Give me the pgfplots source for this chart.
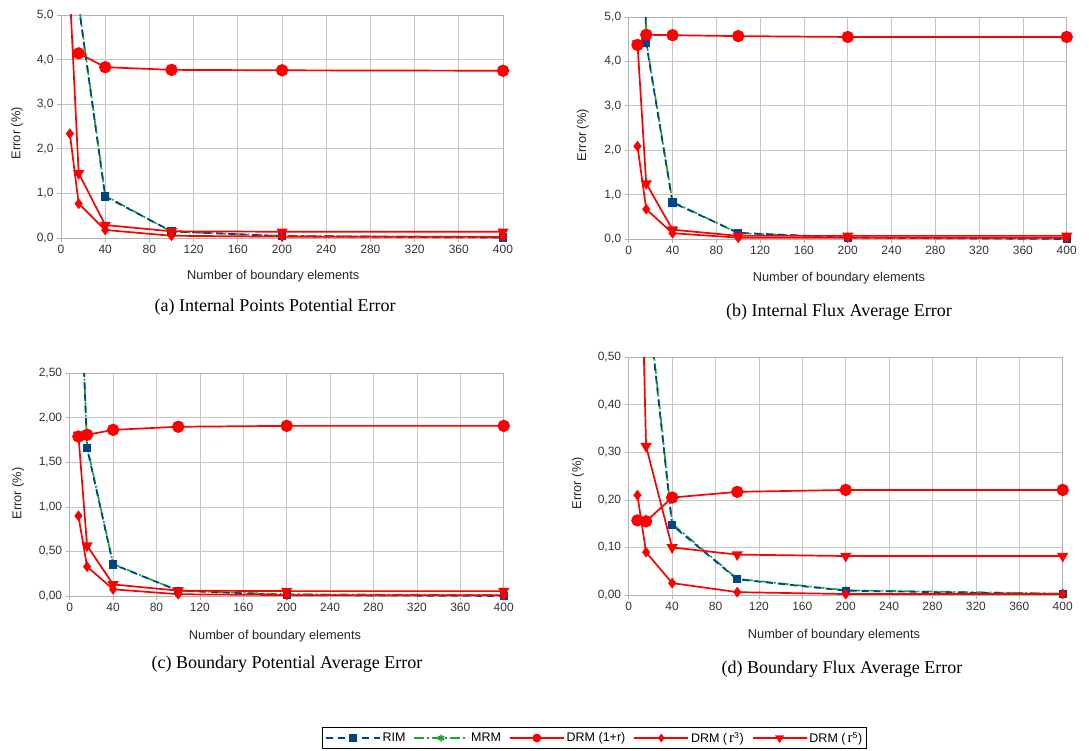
\documentclass[border=0pt]{standalone}
\usepackage{pgfplots}
\pgfplotsset{compat=1.18}
\usepackage{fontspec}
\setmainfont{Liberation Sans}
\newfontfamily\capfont{Liberation Serif}
\definecolor{rimblue}{RGB}{0,69,134}
\definecolor{mrmgreen}{RGB}{20,170,50}
\definecolor{drmred}{RGB}{255,0,0}

\pgfplotsset{
  panel/.style={
    scale only axis, anchor=south west,
    xmin=0, xmax=400, ymin=0,
    xtick={0,40,...,400},
    grid=major, grid style={gray!45, line width=0.8pt},
    axis line style={gray!60, line width=0.8pt},
    tick style={gray!60, line width=0.8pt},
    tick align=outside, major tick length=4pt,
    xtick pos=left, ytick pos=left,
    tick label style={font=\fontsize{12}{13}\selectfont, text=black!80},
    label style={font=\fontsize{12.8}{14}\selectfont, text=black!85},
    /pgf/number format/assume math mode=true,
    xlabel={Number of boundary elements},
    ylabel={Error (\%)},
  },
  rim/.style={color=rimblue, line width=1.7pt, dash pattern=on 7pt off 5pt, mark=square*, mark size=3.3pt, mark options={solid}},
  mrm/.style={color=mrmgreen, line width=1.7pt, dash pattern=on 10pt off 3pt on 2pt off 3pt, mark=asterisk, mark size=4pt, mark options={solid}},
  drma/.style={color=drmred, line width=1.7pt, mark=*, mark size=5.3pt},
  drmb/.style={color=drmred, line width=1.7pt, mark=diamond*, mark size=4pt},
  drmc/.style={color=drmred, line width=1.7pt, mark=triangle*, mark size=4.8pt, mark options={rotate=180}},
}

\begin{document}
\begin{tikzpicture}
\useasboundingbox (0,0) rectangle (1089pt,-751pt);

% (a) Internal Points Potential Error
\begin{axis}[panel, at={(61pt,-238pt)}, width=442pt, height=223pt,
  ymax=5, ytick={0,1,...,5},
  yticklabel style={/pgf/number format/.cd, fixed, fixed zerofill, precision=1, use comma},
  ylabel style={at={(axis description cs:-0.0995,0.47)}, anchor=center},
  xlabel style={at={(axis description cs:0.48,-0.1735)}, anchor=center}]
  \addplot[mrm] coordinates {(8,20) (16,5.25) (40,0.95) (100,0.14) (200,0.05) (400,0.02)};
  \addplot[rim] coordinates {(8,20) (16,5.2) (40,0.93) (100,0.15) (200,0.04) (400,0.01)};
  \addplot[drma] coordinates {(16,4.14) (40,3.83) (100,3.77) (200,3.76) (400,3.75)};
  \addplot[drmb] coordinates {(8,2.34) (16,0.77) (40,0.18) (100,0.05) (200,0.03) (400,0.03)};
  \addplot[drmc] coordinates {(8,5.5) (16,1.45) (40,0.29) (100,0.15) (200,0.14) (400,0.14)};
\end{axis}

% (b) Internal Flux Average Error
\begin{axis}[panel, at={(628.7pt,-239pt)}, width=438pt, height=222pt,
  ymax=5, ytick={0,1,...,5},
  yticklabel style={/pgf/number format/.cd, fixed, fixed zerofill, precision=1, use comma},
  ylabel style={at={(axis description cs:-0.105,0.468)}, anchor=center},
  xlabel style={at={(axis description cs:0.48,-0.177)}, anchor=center}]
  \addplot[mrm] coordinates {(8,15) (16,4.45) (40,0.84) (100,0.13) (200,0.04) (400,0.01)};
  \addplot[rim] coordinates {(8,15) (16,4.41) (40,0.82) (100,0.14) (200,0.03) (400,0.0)};
  \addplot[drma] coordinates {(8,4.37) (16,4.60) (40,4.59) (100,4.57) (200,4.55) (400,4.55)};
  \addplot[drmb] coordinates {(8,2.09) (16,0.67) (40,0.13) (100,0.03) (200,0.03) (400,0.03)};
  \addplot[drmc] coordinates {(8,4.4) (16,1.25) (40,0.21) (100,0.07) (200,0.07) (400,0.07)};
\end{axis}

% (c) Boundary Potential Average Error
\begin{axis}[panel, at={(69.7pt,-596pt)}, width=434pt, height=222.7pt,
  ymax=2.5, ytick={0,0.5,...,2.5},
  yticklabel style={/pgf/number format/.cd, fixed, fixed zerofill, precision=2, use comma},
  ylabel style={at={(axis description cs:-0.119,0.46)}, anchor=center},
  xlabel style={at={(axis description cs:0.473,-0.18)}, anchor=center}]
  \addplot[mrm] coordinates {(8,4.2) (16,1.68) (40,0.36) (100,0.06) (200,0.02) (400,0.01)};
  \addplot[rim] coordinates {(8,4.15) (16,1.66) (40,0.355) (100,0.06) (200,0.01) (400,0.0)};
  \addplot[drma] coordinates {(8,1.79) (16,1.81) (40,1.865) (100,1.90) (200,1.91) (400,1.91)};
  \addplot[drmb] coordinates {(8,0.90) (16,0.33) (40,0.075) (100,0.02) (200,0.01) (400,0.01)};
  \addplot[drmc] coordinates {(8,1.81) (16,0.565) (40,0.13) (100,0.06) (200,0.055) (400,0.055)};
\end{axis}

% (d) Boundary Flux Average Error
\begin{axis}[panel, at={(628.7pt,-595pt)}, width=434pt, height=237.7pt,
  ymax=0.5, ytick={0,0.1,...,0.5},
  yticklabel style={/pgf/number format/.cd, fixed, fixed zerofill, precision=2, use comma},
  ylabel style={at={(axis description cs:-0.117,0.47)}, anchor=center},
  xlabel style={at={(axis description cs:0.473,-0.168)}, anchor=center}]
  \addplot[mrm] coordinates {(8,2.0) (16,0.66) (40,0.15) (100,0.034) (200,0.01) (400,0.003)};
  \addplot[rim] coordinates {(8,2.0) (16,0.65) (40,0.147) (100,0.033) (200,0.009) (400,0.002)};
  \addplot[drma] coordinates {(8,0.157) (16,0.155) (40,0.205) (100,0.217) (200,0.221) (400,0.221)};
  \addplot[drmb] coordinates {(8,0.21) (16,0.09) (40,0.025) (100,0.006) (200,0.002) (400,0.002)};
  \addplot[drmc] coordinates {(8,1.06) (16,0.313) (40,0.10) (100,0.085) (200,0.082) (400,0.082)};
\end{axis}

% shared legend
\begin{axis}[at={(594.5pt,-738pt)}, anchor=center, scale only axis, width=10pt, height=10pt,
  hide axis, xmin=0, xmax=1, ymin=0, ymax=1,
  legend columns=5,
  legend style={at={(0.5,0.5)}, anchor=center, draw=black, line width=0.6pt,
    font=\fontsize{12.5}{14}\selectfont, inner sep=2.5pt,
    /tikz/every even column/.append style={column sep=6pt}},
  legend image code/.code={\draw[mark repeat=2, mark phase=2] plot coordinates {(0pt,0pt) (27pt,0pt) (54pt,0pt)};}]
  \addlegendimage{rim, mark size=3pt}
  \addlegendentry{RIM}
  \addlegendimage{mrm, mark size=3.5pt}
  \addlegendentry{MRM}
  \addlegendimage{drma, mark size=3.5pt}
  \addlegendentry{DRM (1+r)}
  \addlegendimage{drmb, mark size=3pt}
  \addlegendentry{DRM (\,{\capfont\fontsize{15}{15}\selectfont r}\textsuperscript{3})}
  \addlegendimage{drmc, mark size=3.5pt}
  \addlegendentry{DRM (\,{\capfont\fontsize{15}{15}\selectfont r}\textsuperscript{5})}
\end{axis}

% captions
\node[font=\capfont\fontsize{18}{20}\selectfont] at (275pt,-307pt) {(a) Internal Points Potential Error};
\node[font=\capfont\fontsize{18}{20}\selectfont] at (839pt,-312pt) {(b) Internal Flux Average Error};
\node[font=\capfont\fontsize{18}{20}\selectfont] at (287pt,-664pt) {(c) Boundary Potential Average Error};
\node[font=\capfont\fontsize{18}{20}\selectfont] at (842pt,-669pt) {(d) Boundary Flux Average Error};
\end{tikzpicture}
\end{document}
